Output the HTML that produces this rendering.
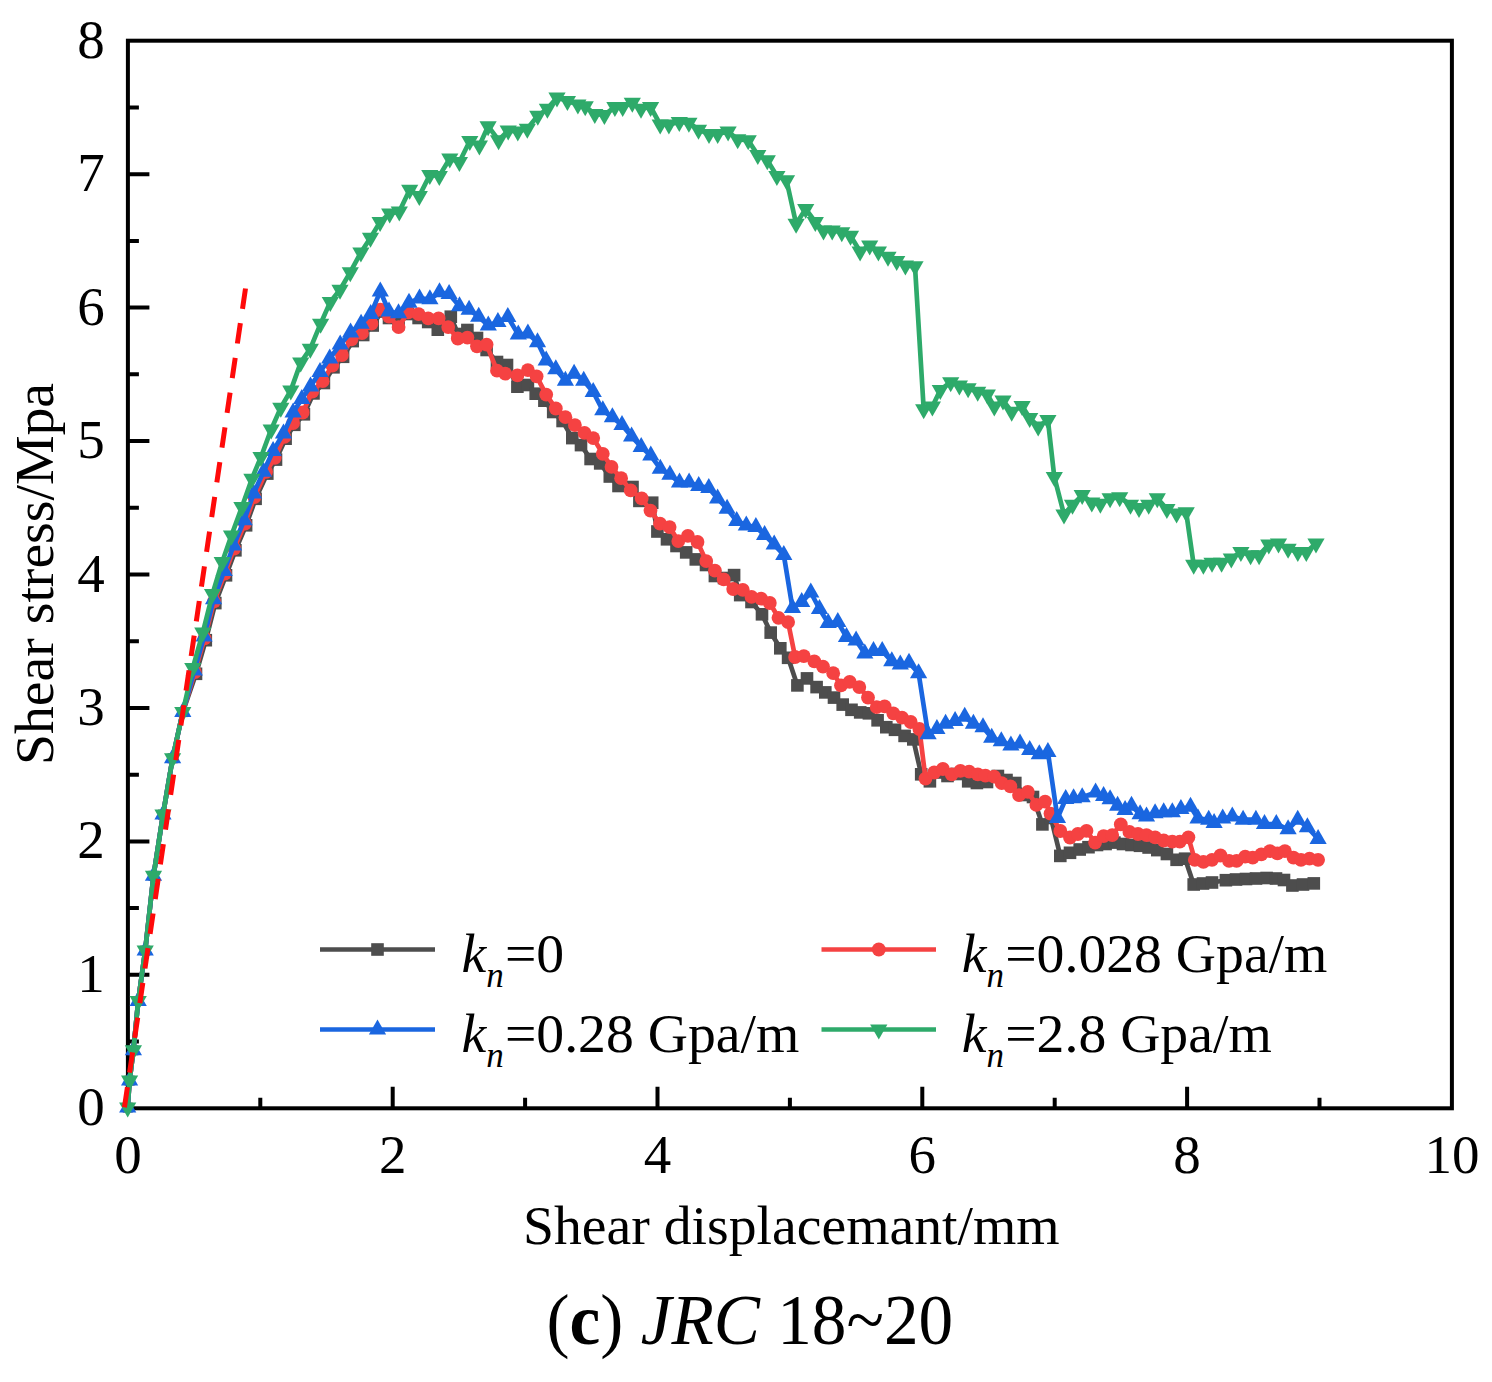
<!DOCTYPE html><html><head><meta charset="utf-8"><title>chart</title><style>html,body{margin:0;padding:0;background:#fff}body{width:1492px;height:1382px;position:relative;overflow:hidden;font-family:"Liberation Serif",serif}</style></head><body><svg width="1492" height="1382" viewBox="0 0 1492 1382" style="position:absolute;left:0;top:0">
<rect width="1492" height="1382" fill="#fff"/>
<rect x="127.9" y="40.7" width="1324.0" height="1067.6" fill="none" stroke="#000" stroke-width="4.0"/>
<path d="M260.3,1108.3v-10.5M392.7,1108.3v-21.5M525.1,1108.3v-10.5M657.5,1108.3v-21.5M789.9,1108.3v-10.5M922.3,1108.3v-21.5M1054.7,1108.3v-10.5M1187.1,1108.3v-21.5M1319.5,1108.3v-10.5M127.9,1041.6h11M127.9,974.8h21.5M127.9,908.1h11M127.9,841.4h21.5M127.9,774.7h11M127.9,708.0h21.5M127.9,641.2h11M127.9,574.5h21.5M127.9,507.8h11M127.9,441.0h21.5M127.9,374.3h11M127.9,307.6h21.5M127.9,240.9h11M127.9,174.2h21.5M127.9,107.4h11" stroke="#000" stroke-width="4.0" fill="none"/>
<polyline points="127.7,1107.6 129.6,1080.6 133.4,1050.3 138.2,1001.0 145.2,950.6 153.5,875.8 163.0,814.6 172.6,758.3 182.8,712.1 196.0,673.8 205.8,640.2 215.3,603.1 226.0,575.3 235.4,550.3 246.1,525.3 255.6,498.8 267.3,473.6 276.0,459.6 285.6,438.7 294.3,424.8 303.9,414.3 313.5,393.4 323.9,383.0 333.5,367.3 343.1,356.8 352.7,341.1 363.2,335.0 372.7,325.5 381.5,311.5 389.0,318.0 398.6,324.0 408.0,314.0 418.6,318.0 428.2,322.0 437.8,329.7 450.8,316.7 458.0,334.0 467.4,330.0 477.0,338.0 486.6,350.0 497.0,362.0 507.0,365.0 517.4,386.7 527.9,385.0 535.7,393.7 544.4,400.7 553.2,412.0 562.6,421.0 572.3,438.1 581.0,445.1 590.6,459.0 600.2,463.4 609.8,476.5 618.5,486.0 632.5,487.0 639.4,500.9 652.2,502.7 657.4,531.5 667.0,539.3 676.5,546.0 686.2,552.4 695.8,559.4 706.0,565.0 714.9,576.0 724.0,578.0 734.1,575.1 740.2,595.1 751.5,602.0 762.0,614.3 770.7,632.6 780.3,648.3 788.1,657.8 797.4,685.4 807.0,678.4 816.6,687.1 825.3,692.4 834.0,697.6 842.7,704.6 851.5,709.8 860.2,712.4 868.9,713.3 877.6,720.3 886.3,727.2 895.0,729.8 904.6,735.9 913.3,739.4 921.2,774.3 929.9,781.3 938.6,772.5 947.5,776.0 956.5,774.0 968.2,781.3 976.9,783.0 987.0,782.0 997.9,776.0 1006.5,780.0 1015.3,783.0 1024.0,795.0 1033.0,797.0 1042.4,824.4 1051.0,818.0 1060.3,855.9 1070.0,852.8 1079.7,849.5 1088.5,847.2 1097.0,845.0 1105.6,844.0 1114.4,842.6 1123.0,844.0 1131.5,845.0 1140.0,845.8 1148.6,847.5 1157.3,850.1 1166.9,854.0 1176.6,859.8 1185.1,858.7 1193.7,884.5 1203.0,883.5 1212.0,882.5 1225.9,880.2 1236.0,879.5 1246.0,879.0 1256.0,878.5 1266.6,878.0 1276.0,878.5 1284.0,880.0 1292.4,885.5 1303.0,884.5 1313.8,883.4" fill="none" stroke="#4d4d4d" stroke-width="4.7" stroke-linejoin="round"/>
<g><rect x="122.7" y="1102.6" width="10.0" height="10.0" fill="#4d4d4d"/><rect x="124.6" y="1075.6" width="10.0" height="10.0" fill="#4d4d4d"/><rect x="128.4" y="1045.3" width="10.0" height="10.0" fill="#4d4d4d"/><rect x="133.2" y="996.0" width="10.0" height="10.0" fill="#4d4d4d"/><rect x="140.2" y="945.6" width="10.0" height="10.0" fill="#4d4d4d"/><rect x="148.5" y="870.8" width="10.0" height="10.0" fill="#4d4d4d"/><rect x="158.0" y="809.6" width="10.0" height="10.0" fill="#4d4d4d"/><rect x="167.6" y="753.3" width="10.0" height="10.0" fill="#4d4d4d"/><rect x="177.8" y="707.1" width="10.0" height="10.0" fill="#4d4d4d"/><rect x="189.7" y="667.5" width="12.6" height="12.6" fill="#4d4d4d"/><rect x="199.5" y="633.9" width="12.6" height="12.6" fill="#4d4d4d"/><rect x="209.0" y="596.8" width="12.6" height="12.6" fill="#4d4d4d"/><rect x="219.7" y="569.0" width="12.6" height="12.6" fill="#4d4d4d"/><rect x="229.1" y="544.0" width="12.6" height="12.6" fill="#4d4d4d"/><rect x="239.8" y="519.0" width="12.6" height="12.6" fill="#4d4d4d"/><rect x="249.3" y="492.5" width="12.6" height="12.6" fill="#4d4d4d"/><rect x="261.0" y="467.3" width="12.6" height="12.6" fill="#4d4d4d"/><rect x="269.7" y="453.3" width="12.6" height="12.6" fill="#4d4d4d"/><rect x="279.3" y="432.4" width="12.6" height="12.6" fill="#4d4d4d"/><rect x="288.0" y="418.5" width="12.6" height="12.6" fill="#4d4d4d"/><rect x="297.6" y="408.0" width="12.6" height="12.6" fill="#4d4d4d"/><rect x="307.2" y="387.1" width="12.6" height="12.6" fill="#4d4d4d"/><rect x="317.6" y="376.7" width="12.6" height="12.6" fill="#4d4d4d"/><rect x="327.2" y="361.0" width="12.6" height="12.6" fill="#4d4d4d"/><rect x="336.8" y="350.5" width="12.6" height="12.6" fill="#4d4d4d"/><rect x="346.4" y="334.8" width="12.6" height="12.6" fill="#4d4d4d"/><rect x="356.9" y="328.7" width="12.6" height="12.6" fill="#4d4d4d"/><rect x="366.4" y="319.2" width="12.6" height="12.6" fill="#4d4d4d"/><rect x="375.2" y="305.2" width="12.6" height="12.6" fill="#4d4d4d"/><rect x="382.7" y="311.7" width="12.6" height="12.6" fill="#4d4d4d"/><rect x="392.3" y="317.7" width="12.6" height="12.6" fill="#4d4d4d"/><rect x="401.7" y="307.7" width="12.6" height="12.6" fill="#4d4d4d"/><rect x="412.3" y="311.7" width="12.6" height="12.6" fill="#4d4d4d"/><rect x="421.9" y="315.7" width="12.6" height="12.6" fill="#4d4d4d"/><rect x="431.5" y="323.4" width="12.6" height="12.6" fill="#4d4d4d"/><rect x="444.5" y="310.4" width="12.6" height="12.6" fill="#4d4d4d"/><rect x="451.7" y="327.7" width="12.6" height="12.6" fill="#4d4d4d"/><rect x="461.1" y="323.7" width="12.6" height="12.6" fill="#4d4d4d"/><rect x="470.7" y="331.7" width="12.6" height="12.6" fill="#4d4d4d"/><rect x="480.3" y="343.7" width="12.6" height="12.6" fill="#4d4d4d"/><rect x="490.7" y="355.7" width="12.6" height="12.6" fill="#4d4d4d"/><rect x="500.7" y="358.7" width="12.6" height="12.6" fill="#4d4d4d"/><rect x="511.1" y="380.4" width="12.6" height="12.6" fill="#4d4d4d"/><rect x="521.6" y="378.7" width="12.6" height="12.6" fill="#4d4d4d"/><rect x="529.4" y="387.4" width="12.6" height="12.6" fill="#4d4d4d"/><rect x="538.1" y="394.4" width="12.6" height="12.6" fill="#4d4d4d"/><rect x="546.9" y="405.7" width="12.6" height="12.6" fill="#4d4d4d"/><rect x="556.3" y="414.7" width="12.6" height="12.6" fill="#4d4d4d"/><rect x="566.0" y="431.8" width="12.6" height="12.6" fill="#4d4d4d"/><rect x="574.7" y="438.8" width="12.6" height="12.6" fill="#4d4d4d"/><rect x="584.3" y="452.7" width="12.6" height="12.6" fill="#4d4d4d"/><rect x="593.9" y="457.1" width="12.6" height="12.6" fill="#4d4d4d"/><rect x="603.5" y="470.2" width="12.6" height="12.6" fill="#4d4d4d"/><rect x="612.2" y="479.7" width="12.6" height="12.6" fill="#4d4d4d"/><rect x="626.2" y="480.7" width="12.6" height="12.6" fill="#4d4d4d"/><rect x="633.1" y="494.6" width="12.6" height="12.6" fill="#4d4d4d"/><rect x="645.9" y="496.4" width="12.6" height="12.6" fill="#4d4d4d"/><rect x="651.1" y="525.2" width="12.6" height="12.6" fill="#4d4d4d"/><rect x="660.7" y="533.0" width="12.6" height="12.6" fill="#4d4d4d"/><rect x="670.2" y="539.7" width="12.6" height="12.6" fill="#4d4d4d"/><rect x="679.9" y="546.1" width="12.6" height="12.6" fill="#4d4d4d"/><rect x="689.5" y="553.1" width="12.6" height="12.6" fill="#4d4d4d"/><rect x="699.7" y="558.7" width="12.6" height="12.6" fill="#4d4d4d"/><rect x="708.6" y="569.7" width="12.6" height="12.6" fill="#4d4d4d"/><rect x="717.7" y="571.7" width="12.6" height="12.6" fill="#4d4d4d"/><rect x="727.8" y="568.8" width="12.6" height="12.6" fill="#4d4d4d"/><rect x="733.9" y="588.8" width="12.6" height="12.6" fill="#4d4d4d"/><rect x="745.2" y="595.7" width="12.6" height="12.6" fill="#4d4d4d"/><rect x="755.7" y="608.0" width="12.6" height="12.6" fill="#4d4d4d"/><rect x="764.4" y="626.3" width="12.6" height="12.6" fill="#4d4d4d"/><rect x="774.0" y="642.0" width="12.6" height="12.6" fill="#4d4d4d"/><rect x="781.8" y="651.5" width="12.6" height="12.6" fill="#4d4d4d"/><rect x="791.1" y="679.1" width="12.6" height="12.6" fill="#4d4d4d"/><rect x="800.7" y="672.1" width="12.6" height="12.6" fill="#4d4d4d"/><rect x="810.3" y="680.8" width="12.6" height="12.6" fill="#4d4d4d"/><rect x="819.0" y="686.1" width="12.6" height="12.6" fill="#4d4d4d"/><rect x="827.7" y="691.3" width="12.6" height="12.6" fill="#4d4d4d"/><rect x="836.4" y="698.3" width="12.6" height="12.6" fill="#4d4d4d"/><rect x="845.2" y="703.5" width="12.6" height="12.6" fill="#4d4d4d"/><rect x="853.9" y="706.1" width="12.6" height="12.6" fill="#4d4d4d"/><rect x="862.6" y="707.0" width="12.6" height="12.6" fill="#4d4d4d"/><rect x="871.3" y="714.0" width="12.6" height="12.6" fill="#4d4d4d"/><rect x="880.0" y="720.9" width="12.6" height="12.6" fill="#4d4d4d"/><rect x="888.7" y="723.5" width="12.6" height="12.6" fill="#4d4d4d"/><rect x="898.3" y="729.6" width="12.6" height="12.6" fill="#4d4d4d"/><rect x="907.0" y="733.1" width="12.6" height="12.6" fill="#4d4d4d"/><rect x="914.9" y="768.0" width="12.6" height="12.6" fill="#4d4d4d"/><rect x="923.6" y="775.0" width="12.6" height="12.6" fill="#4d4d4d"/><rect x="932.3" y="766.2" width="12.6" height="12.6" fill="#4d4d4d"/><rect x="941.2" y="769.7" width="12.6" height="12.6" fill="#4d4d4d"/><rect x="950.2" y="767.7" width="12.6" height="12.6" fill="#4d4d4d"/><rect x="961.9" y="775.0" width="12.6" height="12.6" fill="#4d4d4d"/><rect x="970.6" y="776.7" width="12.6" height="12.6" fill="#4d4d4d"/><rect x="980.7" y="775.7" width="12.6" height="12.6" fill="#4d4d4d"/><rect x="991.6" y="769.7" width="12.6" height="12.6" fill="#4d4d4d"/><rect x="1000.2" y="773.7" width="12.6" height="12.6" fill="#4d4d4d"/><rect x="1009.0" y="776.7" width="12.6" height="12.6" fill="#4d4d4d"/><rect x="1017.7" y="788.7" width="12.6" height="12.6" fill="#4d4d4d"/><rect x="1026.7" y="790.7" width="12.6" height="12.6" fill="#4d4d4d"/><rect x="1036.1" y="818.1" width="12.6" height="12.6" fill="#4d4d4d"/><rect x="1044.7" y="811.7" width="12.6" height="12.6" fill="#4d4d4d"/><rect x="1054.0" y="849.6" width="12.6" height="12.6" fill="#4d4d4d"/><rect x="1063.7" y="846.5" width="12.6" height="12.6" fill="#4d4d4d"/><rect x="1073.4" y="843.2" width="12.6" height="12.6" fill="#4d4d4d"/><rect x="1082.2" y="840.9" width="12.6" height="12.6" fill="#4d4d4d"/><rect x="1090.7" y="838.7" width="12.6" height="12.6" fill="#4d4d4d"/><rect x="1099.3" y="837.7" width="12.6" height="12.6" fill="#4d4d4d"/><rect x="1108.1" y="836.3" width="12.6" height="12.6" fill="#4d4d4d"/><rect x="1116.7" y="837.7" width="12.6" height="12.6" fill="#4d4d4d"/><rect x="1125.2" y="838.7" width="12.6" height="12.6" fill="#4d4d4d"/><rect x="1133.7" y="839.5" width="12.6" height="12.6" fill="#4d4d4d"/><rect x="1142.3" y="841.2" width="12.6" height="12.6" fill="#4d4d4d"/><rect x="1151.0" y="843.8" width="12.6" height="12.6" fill="#4d4d4d"/><rect x="1160.6" y="847.7" width="12.6" height="12.6" fill="#4d4d4d"/><rect x="1170.3" y="853.5" width="12.6" height="12.6" fill="#4d4d4d"/><rect x="1178.8" y="852.4" width="12.6" height="12.6" fill="#4d4d4d"/><rect x="1187.4" y="878.2" width="12.6" height="12.6" fill="#4d4d4d"/><rect x="1196.7" y="877.2" width="12.6" height="12.6" fill="#4d4d4d"/><rect x="1205.7" y="876.2" width="12.6" height="12.6" fill="#4d4d4d"/><rect x="1219.6" y="873.9" width="12.6" height="12.6" fill="#4d4d4d"/><rect x="1229.7" y="873.2" width="12.6" height="12.6" fill="#4d4d4d"/><rect x="1239.7" y="872.7" width="12.6" height="12.6" fill="#4d4d4d"/><rect x="1249.7" y="872.2" width="12.6" height="12.6" fill="#4d4d4d"/><rect x="1260.3" y="871.7" width="12.6" height="12.6" fill="#4d4d4d"/><rect x="1269.7" y="872.2" width="12.6" height="12.6" fill="#4d4d4d"/><rect x="1277.7" y="873.7" width="12.6" height="12.6" fill="#4d4d4d"/><rect x="1286.1" y="879.2" width="12.6" height="12.6" fill="#4d4d4d"/><rect x="1296.7" y="878.2" width="12.6" height="12.6" fill="#4d4d4d"/><rect x="1307.5" y="877.1" width="12.6" height="12.6" fill="#4d4d4d"/></g>
<polyline points="127.7,1107.6 129.6,1080.6 133.4,1050.3 138.2,1001.0 145.2,950.6 153.5,875.8 163.0,814.6 172.6,758.3 182.8,712.1 194.8,672.0 204.6,638.4 214.1,601.3 224.8,573.5 234.2,548.5 244.9,523.5 254.4,497.0 266.1,471.8 274.8,457.8 284.4,436.9 293.1,423.0 302.7,412.5 312.3,391.6 322.7,381.2 332.3,365.5 341.9,355.0 351.5,339.3 362.0,333.2 371.5,323.7 380.3,309.7 389.0,316.7 398.6,327.1 408.1,312.3 418.6,314.1 428.2,318.4 438.6,318.4 448.2,327.1 457.8,338.5 467.4,337.6 477.0,346.3 486.6,344.6 497.0,370.7 505.2,373.7 517.4,375.4 527.9,370.2 536.6,376.3 546.2,394.6 555.8,408.5 565.4,417.2 574.9,425.1 584.5,432.9 593.2,438.1 602.8,453.8 611.5,466.9 621.1,478.2 630.7,490.4 641.7,498.4 650.5,510.6 660.0,523.7 669.6,527.1 678.3,541.1 687.9,535.9 697.5,542.0 706.2,561.1 714.9,570.7 723.7,579.4 733.2,589.0 742.8,589.9 751.5,596.9 761.1,598.6 769.8,603.0 778.5,617.8 788.1,622.1 795.1,657.0 803.8,656.1 814.3,661.3 823.0,666.6 833.2,673.2 841.0,685.4 849.7,681.9 859.3,687.1 868.0,697.6 876.7,707.2 884.6,706.3 893.3,713.3 902.0,717.6 910.7,722.0 919.4,729.0 925.5,778.6 934.2,772.5 942.9,769.0 951.7,774.3 960.4,770.8 969.1,771.7 977.8,774.3 985.4,775.6 994.1,776.7 1001.7,783.2 1010.4,786.4 1019.0,795.1 1027.8,791.9 1036.4,804.9 1045.1,801.6 1050.5,813.6 1060.3,831.0 1070.0,837.5 1077.9,834.0 1086.5,830.8 1095.1,842.6 1103.6,836.2 1112.2,835.1 1120.8,824.4 1129.4,831.9 1138.0,834.0 1146.5,835.1 1155.1,837.3 1163.7,840.5 1172.3,841.6 1179.8,841.6 1188.4,837.3 1194.8,859.8 1203.4,861.9 1212.0,859.8 1220.5,855.5 1229.1,860.9 1236.6,860.9 1245.2,856.6 1252.7,857.6 1261.3,854.4 1269.9,851.2 1277.4,853.4 1284.9,851.2 1293.5,857.6 1301.0,859.8 1309.5,858.7 1318.1,859.8" fill="none" stroke="#f54242" stroke-width="4.7" stroke-linejoin="round"/>
<g><circle cx="127.7" cy="1107.6" r="5.0" fill="#f54242"/><circle cx="129.6" cy="1080.6" r="5.0" fill="#f54242"/><circle cx="133.4" cy="1050.3" r="5.0" fill="#f54242"/><circle cx="138.2" cy="1001.0" r="5.0" fill="#f54242"/><circle cx="145.2" cy="950.6" r="5.0" fill="#f54242"/><circle cx="153.5" cy="875.8" r="5.0" fill="#f54242"/><circle cx="163.0" cy="814.6" r="5.0" fill="#f54242"/><circle cx="172.6" cy="758.3" r="5.0" fill="#f54242"/><circle cx="182.8" cy="712.1" r="5.0" fill="#f54242"/><circle cx="194.8" cy="672.0" r="6.9" fill="#f54242"/><circle cx="204.6" cy="638.4" r="6.9" fill="#f54242"/><circle cx="214.1" cy="601.3" r="6.9" fill="#f54242"/><circle cx="224.8" cy="573.5" r="6.9" fill="#f54242"/><circle cx="234.2" cy="548.5" r="6.9" fill="#f54242"/><circle cx="244.9" cy="523.5" r="6.9" fill="#f54242"/><circle cx="254.4" cy="497.0" r="6.9" fill="#f54242"/><circle cx="266.1" cy="471.8" r="6.9" fill="#f54242"/><circle cx="274.8" cy="457.8" r="6.9" fill="#f54242"/><circle cx="284.4" cy="436.9" r="6.9" fill="#f54242"/><circle cx="293.1" cy="423.0" r="6.9" fill="#f54242"/><circle cx="302.7" cy="412.5" r="6.9" fill="#f54242"/><circle cx="312.3" cy="391.6" r="6.9" fill="#f54242"/><circle cx="322.7" cy="381.2" r="6.9" fill="#f54242"/><circle cx="332.3" cy="365.5" r="6.9" fill="#f54242"/><circle cx="341.9" cy="355.0" r="6.9" fill="#f54242"/><circle cx="351.5" cy="339.3" r="6.9" fill="#f54242"/><circle cx="362.0" cy="333.2" r="6.9" fill="#f54242"/><circle cx="371.5" cy="323.7" r="6.9" fill="#f54242"/><circle cx="380.3" cy="309.7" r="6.9" fill="#f54242"/><circle cx="389.0" cy="316.7" r="6.9" fill="#f54242"/><circle cx="398.6" cy="327.1" r="6.9" fill="#f54242"/><circle cx="408.1" cy="312.3" r="6.9" fill="#f54242"/><circle cx="418.6" cy="314.1" r="6.9" fill="#f54242"/><circle cx="428.2" cy="318.4" r="6.9" fill="#f54242"/><circle cx="438.6" cy="318.4" r="6.9" fill="#f54242"/><circle cx="448.2" cy="327.1" r="6.9" fill="#f54242"/><circle cx="457.8" cy="338.5" r="6.9" fill="#f54242"/><circle cx="467.4" cy="337.6" r="6.9" fill="#f54242"/><circle cx="477.0" cy="346.3" r="6.9" fill="#f54242"/><circle cx="486.6" cy="344.6" r="6.9" fill="#f54242"/><circle cx="497.0" cy="370.7" r="6.9" fill="#f54242"/><circle cx="505.2" cy="373.7" r="6.9" fill="#f54242"/><circle cx="517.4" cy="375.4" r="6.9" fill="#f54242"/><circle cx="527.9" cy="370.2" r="6.9" fill="#f54242"/><circle cx="536.6" cy="376.3" r="6.9" fill="#f54242"/><circle cx="546.2" cy="394.6" r="6.9" fill="#f54242"/><circle cx="555.8" cy="408.5" r="6.9" fill="#f54242"/><circle cx="565.4" cy="417.2" r="6.9" fill="#f54242"/><circle cx="574.9" cy="425.1" r="6.9" fill="#f54242"/><circle cx="584.5" cy="432.9" r="6.9" fill="#f54242"/><circle cx="593.2" cy="438.1" r="6.9" fill="#f54242"/><circle cx="602.8" cy="453.8" r="6.9" fill="#f54242"/><circle cx="611.5" cy="466.9" r="6.9" fill="#f54242"/><circle cx="621.1" cy="478.2" r="6.9" fill="#f54242"/><circle cx="630.7" cy="490.4" r="6.9" fill="#f54242"/><circle cx="641.7" cy="498.4" r="6.9" fill="#f54242"/><circle cx="650.5" cy="510.6" r="6.9" fill="#f54242"/><circle cx="660.0" cy="523.7" r="6.9" fill="#f54242"/><circle cx="669.6" cy="527.1" r="6.9" fill="#f54242"/><circle cx="678.3" cy="541.1" r="6.9" fill="#f54242"/><circle cx="687.9" cy="535.9" r="6.9" fill="#f54242"/><circle cx="697.5" cy="542.0" r="6.9" fill="#f54242"/><circle cx="706.2" cy="561.1" r="6.9" fill="#f54242"/><circle cx="714.9" cy="570.7" r="6.9" fill="#f54242"/><circle cx="723.7" cy="579.4" r="6.9" fill="#f54242"/><circle cx="733.2" cy="589.0" r="6.9" fill="#f54242"/><circle cx="742.8" cy="589.9" r="6.9" fill="#f54242"/><circle cx="751.5" cy="596.9" r="6.9" fill="#f54242"/><circle cx="761.1" cy="598.6" r="6.9" fill="#f54242"/><circle cx="769.8" cy="603.0" r="6.9" fill="#f54242"/><circle cx="778.5" cy="617.8" r="6.9" fill="#f54242"/><circle cx="788.1" cy="622.1" r="6.9" fill="#f54242"/><circle cx="795.1" cy="657.0" r="6.9" fill="#f54242"/><circle cx="803.8" cy="656.1" r="6.9" fill="#f54242"/><circle cx="814.3" cy="661.3" r="6.9" fill="#f54242"/><circle cx="823.0" cy="666.6" r="6.9" fill="#f54242"/><circle cx="833.2" cy="673.2" r="6.9" fill="#f54242"/><circle cx="841.0" cy="685.4" r="6.9" fill="#f54242"/><circle cx="849.7" cy="681.9" r="6.9" fill="#f54242"/><circle cx="859.3" cy="687.1" r="6.9" fill="#f54242"/><circle cx="868.0" cy="697.6" r="6.9" fill="#f54242"/><circle cx="876.7" cy="707.2" r="6.9" fill="#f54242"/><circle cx="884.6" cy="706.3" r="6.9" fill="#f54242"/><circle cx="893.3" cy="713.3" r="6.9" fill="#f54242"/><circle cx="902.0" cy="717.6" r="6.9" fill="#f54242"/><circle cx="910.7" cy="722.0" r="6.9" fill="#f54242"/><circle cx="919.4" cy="729.0" r="6.9" fill="#f54242"/><circle cx="925.5" cy="778.6" r="6.9" fill="#f54242"/><circle cx="934.2" cy="772.5" r="6.9" fill="#f54242"/><circle cx="942.9" cy="769.0" r="6.9" fill="#f54242"/><circle cx="951.7" cy="774.3" r="6.9" fill="#f54242"/><circle cx="960.4" cy="770.8" r="6.9" fill="#f54242"/><circle cx="969.1" cy="771.7" r="6.9" fill="#f54242"/><circle cx="977.8" cy="774.3" r="6.9" fill="#f54242"/><circle cx="985.4" cy="775.6" r="6.9" fill="#f54242"/><circle cx="994.1" cy="776.7" r="6.9" fill="#f54242"/><circle cx="1001.7" cy="783.2" r="6.9" fill="#f54242"/><circle cx="1010.4" cy="786.4" r="6.9" fill="#f54242"/><circle cx="1019.0" cy="795.1" r="6.9" fill="#f54242"/><circle cx="1027.8" cy="791.9" r="6.9" fill="#f54242"/><circle cx="1036.4" cy="804.9" r="6.9" fill="#f54242"/><circle cx="1045.1" cy="801.6" r="6.9" fill="#f54242"/><circle cx="1050.5" cy="813.6" r="6.9" fill="#f54242"/><circle cx="1060.3" cy="831.0" r="6.9" fill="#f54242"/><circle cx="1070.0" cy="837.5" r="6.9" fill="#f54242"/><circle cx="1077.9" cy="834.0" r="6.9" fill="#f54242"/><circle cx="1086.5" cy="830.8" r="6.9" fill="#f54242"/><circle cx="1095.1" cy="842.6" r="6.9" fill="#f54242"/><circle cx="1103.6" cy="836.2" r="6.9" fill="#f54242"/><circle cx="1112.2" cy="835.1" r="6.9" fill="#f54242"/><circle cx="1120.8" cy="824.4" r="6.9" fill="#f54242"/><circle cx="1129.4" cy="831.9" r="6.9" fill="#f54242"/><circle cx="1138.0" cy="834.0" r="6.9" fill="#f54242"/><circle cx="1146.5" cy="835.1" r="6.9" fill="#f54242"/><circle cx="1155.1" cy="837.3" r="6.9" fill="#f54242"/><circle cx="1163.7" cy="840.5" r="6.9" fill="#f54242"/><circle cx="1172.3" cy="841.6" r="6.9" fill="#f54242"/><circle cx="1179.8" cy="841.6" r="6.9" fill="#f54242"/><circle cx="1188.4" cy="837.3" r="6.9" fill="#f54242"/><circle cx="1194.8" cy="859.8" r="6.9" fill="#f54242"/><circle cx="1203.4" cy="861.9" r="6.9" fill="#f54242"/><circle cx="1212.0" cy="859.8" r="6.9" fill="#f54242"/><circle cx="1220.5" cy="855.5" r="6.9" fill="#f54242"/><circle cx="1229.1" cy="860.9" r="6.9" fill="#f54242"/><circle cx="1236.6" cy="860.9" r="6.9" fill="#f54242"/><circle cx="1245.2" cy="856.6" r="6.9" fill="#f54242"/><circle cx="1252.7" cy="857.6" r="6.9" fill="#f54242"/><circle cx="1261.3" cy="854.4" r="6.9" fill="#f54242"/><circle cx="1269.9" cy="851.2" r="6.9" fill="#f54242"/><circle cx="1277.4" cy="853.4" r="6.9" fill="#f54242"/><circle cx="1284.9" cy="851.2" r="6.9" fill="#f54242"/><circle cx="1293.5" cy="857.6" r="6.9" fill="#f54242"/><circle cx="1301.0" cy="859.8" r="6.9" fill="#f54242"/><circle cx="1309.5" cy="858.7" r="6.9" fill="#f54242"/><circle cx="1318.1" cy="859.8" r="6.9" fill="#f54242"/></g>
<polyline points="127.7,1107.6 129.6,1080.6 133.4,1050.3 138.2,1001.0 145.2,950.6 153.5,875.8 163.0,814.6 172.6,758.3 182.8,712.1 194.3,670.5 204.1,636.6 213.6,599.3 224.2,571.0 233.6,545.5 244.2,520.2 253.6,493.6 263.5,471.8 273.1,450.9 283.5,433.5 293.1,412.5 301.8,399.0 310.5,386.4 320.0,372.0 329.7,358.5 340.2,344.6 350.6,332.4 361.1,323.7 370.7,314.1 380.3,291.4 389.0,311.5 398.5,313.2 409.0,302.7 419.5,298.4 429.9,299.3 439.5,292.3 449.1,294.0 459.5,306.2 469.1,309.7 478.7,316.7 488.3,325.4 497.9,321.9 507.8,317.0 518.3,334.5 527.9,333.6 537.5,342.3 546.2,360.6 555.8,369.3 565.4,380.7 574.1,373.7 583.7,380.7 593.2,392.0 602.8,410.3 612.4,417.3 622.0,425.1 631.6,436.4 641.2,446.9 650.8,455.6 660.3,468.7 669.9,474.8 679.5,482.6 689.1,482.6 698.7,486.0 708.8,487.9 717.6,498.4 727.1,508.8 736.7,521.0 746.3,525.4 755.9,527.1 764.6,535.0 774.2,544.6 783.8,555.0 792.5,608.0 801.7,602.0 810.8,592.5 819.5,609.0 828.2,623.0 837.8,622.0 846.5,637.0 856.1,640.4 864.8,653.5 873.5,650.9 882.2,650.9 891.8,661.3 900.3,664.5 909.0,662.7 918.6,673.2 928.1,734.2 936.9,729.0 945.6,723.7 955.1,721.1 964.7,716.8 973.4,723.7 983.0,727.2 991.7,737.7 1001.3,741.2 1010.9,745.5 1020.0,743.5 1029.7,750.0 1039.3,754.3 1047.9,752.1 1057.5,818.0 1065.7,799.0 1073.6,798.2 1082.2,797.2 1095.6,792.5 1103.6,796.1 1110.1,799.3 1117.6,805.7 1125.1,810.0 1131.5,805.7 1140.1,814.3 1146.5,816.5 1155.1,813.2 1163.7,812.2 1172.3,812.2 1180.9,809.0 1190.5,806.8 1198.0,818.6 1208.7,819.7 1214.1,822.9 1222.7,818.6 1232.3,816.5 1243.1,819.7 1255.9,819.7 1264.5,824.0 1276.3,824.0 1288.1,829.3 1297.7,819.7 1307.4,827.2 1318.1,839.0" fill="none" stroke="#1a66e0" stroke-width="4.7" stroke-linejoin="round"/>
<g><path d="M119.1,1112.6L136.3,1112.6L127.7,1097.6Z" fill="#1a66e0"/><path d="M121.0,1085.6L138.2,1085.6L129.6,1070.6Z" fill="#1a66e0"/><path d="M124.8,1055.3L142.0,1055.3L133.4,1040.3Z" fill="#1a66e0"/><path d="M129.6,1006.0L146.8,1006.0L138.2,991.0Z" fill="#1a66e0"/><path d="M136.6,955.6L153.8,955.6L145.2,940.6Z" fill="#1a66e0"/><path d="M144.9,880.8L162.1,880.8L153.5,865.8Z" fill="#1a66e0"/><path d="M154.4,819.6L171.6,819.6L163.0,804.6Z" fill="#1a66e0"/><path d="M164.0,763.3L181.2,763.3L172.6,748.3Z" fill="#1a66e0"/><path d="M174.2,717.1L191.4,717.1L182.8,702.1Z" fill="#1a66e0"/><path d="M185.7,675.5L202.9,675.5L194.3,660.5Z" fill="#1a66e0"/><path d="M195.5,641.6L212.7,641.6L204.1,626.6Z" fill="#1a66e0"/><path d="M205.0,604.3L222.2,604.3L213.6,589.3Z" fill="#1a66e0"/><path d="M215.6,576.0L232.8,576.0L224.2,561.0Z" fill="#1a66e0"/><path d="M225.0,550.5L242.2,550.5L233.6,535.5Z" fill="#1a66e0"/><path d="M235.6,525.2L252.8,525.2L244.2,510.2Z" fill="#1a66e0"/><path d="M245.0,498.6L262.2,498.6L253.6,483.6Z" fill="#1a66e0"/><path d="M254.9,476.8L272.1,476.8L263.5,461.8Z" fill="#1a66e0"/><path d="M264.5,455.9L281.7,455.9L273.1,440.9Z" fill="#1a66e0"/><path d="M274.9,438.5L292.1,438.5L283.5,423.5Z" fill="#1a66e0"/><path d="M284.5,417.5L301.7,417.5L293.1,402.5Z" fill="#1a66e0"/><path d="M293.2,404.0L310.4,404.0L301.8,389.0Z" fill="#1a66e0"/><path d="M301.9,391.4L319.1,391.4L310.5,376.4Z" fill="#1a66e0"/><path d="M311.4,377.0L328.6,377.0L320.0,362.0Z" fill="#1a66e0"/><path d="M321.1,363.5L338.3,363.5L329.7,348.5Z" fill="#1a66e0"/><path d="M331.6,349.6L348.8,349.6L340.2,334.6Z" fill="#1a66e0"/><path d="M342.0,337.4L359.2,337.4L350.6,322.4Z" fill="#1a66e0"/><path d="M352.5,328.7L369.7,328.7L361.1,313.7Z" fill="#1a66e0"/><path d="M362.1,319.1L379.3,319.1L370.7,304.1Z" fill="#1a66e0"/><path d="M371.7,296.4L388.9,296.4L380.3,281.4Z" fill="#1a66e0"/><path d="M380.4,316.5L397.6,316.5L389.0,301.5Z" fill="#1a66e0"/><path d="M389.9,318.2L407.1,318.2L398.5,303.2Z" fill="#1a66e0"/><path d="M400.4,307.7L417.6,307.7L409.0,292.7Z" fill="#1a66e0"/><path d="M410.9,303.4L428.1,303.4L419.5,288.4Z" fill="#1a66e0"/><path d="M421.3,304.3L438.5,304.3L429.9,289.3Z" fill="#1a66e0"/><path d="M430.9,297.3L448.1,297.3L439.5,282.3Z" fill="#1a66e0"/><path d="M440.5,299.0L457.7,299.0L449.1,284.0Z" fill="#1a66e0"/><path d="M450.9,311.2L468.1,311.2L459.5,296.2Z" fill="#1a66e0"/><path d="M460.5,314.7L477.7,314.7L469.1,299.7Z" fill="#1a66e0"/><path d="M470.1,321.7L487.3,321.7L478.7,306.7Z" fill="#1a66e0"/><path d="M479.7,330.4L496.9,330.4L488.3,315.4Z" fill="#1a66e0"/><path d="M489.3,326.9L506.5,326.9L497.9,311.9Z" fill="#1a66e0"/><path d="M499.2,322.0L516.4,322.0L507.8,307.0Z" fill="#1a66e0"/><path d="M509.7,339.5L526.9,339.5L518.3,324.5Z" fill="#1a66e0"/><path d="M519.3,338.6L536.5,338.6L527.9,323.6Z" fill="#1a66e0"/><path d="M528.9,347.3L546.1,347.3L537.5,332.3Z" fill="#1a66e0"/><path d="M537.6,365.6L554.8,365.6L546.2,350.6Z" fill="#1a66e0"/><path d="M547.2,374.3L564.4,374.3L555.8,359.3Z" fill="#1a66e0"/><path d="M556.8,385.7L574.0,385.7L565.4,370.7Z" fill="#1a66e0"/><path d="M565.5,378.7L582.7,378.7L574.1,363.7Z" fill="#1a66e0"/><path d="M575.1,385.7L592.3,385.7L583.7,370.7Z" fill="#1a66e0"/><path d="M584.6,397.0L601.8,397.0L593.2,382.0Z" fill="#1a66e0"/><path d="M594.2,415.3L611.4,415.3L602.8,400.3Z" fill="#1a66e0"/><path d="M603.8,422.3L621.0,422.3L612.4,407.3Z" fill="#1a66e0"/><path d="M613.4,430.1L630.6,430.1L622.0,415.1Z" fill="#1a66e0"/><path d="M623.0,441.4L640.2,441.4L631.6,426.4Z" fill="#1a66e0"/><path d="M632.6,451.9L649.8,451.9L641.2,436.9Z" fill="#1a66e0"/><path d="M642.2,460.6L659.4,460.6L650.8,445.6Z" fill="#1a66e0"/><path d="M651.7,473.7L668.9,473.7L660.3,458.7Z" fill="#1a66e0"/><path d="M661.3,479.8L678.5,479.8L669.9,464.8Z" fill="#1a66e0"/><path d="M670.9,487.6L688.1,487.6L679.5,472.6Z" fill="#1a66e0"/><path d="M680.5,487.6L697.7,487.6L689.1,472.6Z" fill="#1a66e0"/><path d="M690.1,491.0L707.3,491.0L698.7,476.0Z" fill="#1a66e0"/><path d="M700.2,492.9L717.4,492.9L708.8,477.9Z" fill="#1a66e0"/><path d="M709.0,503.4L726.2,503.4L717.6,488.4Z" fill="#1a66e0"/><path d="M718.5,513.8L735.7,513.8L727.1,498.8Z" fill="#1a66e0"/><path d="M728.1,526.0L745.3,526.0L736.7,511.0Z" fill="#1a66e0"/><path d="M737.7,530.4L754.9,530.4L746.3,515.4Z" fill="#1a66e0"/><path d="M747.3,532.1L764.5,532.1L755.9,517.1Z" fill="#1a66e0"/><path d="M756.0,540.0L773.2,540.0L764.6,525.0Z" fill="#1a66e0"/><path d="M765.6,549.6L782.8,549.6L774.2,534.6Z" fill="#1a66e0"/><path d="M775.2,560.0L792.4,560.0L783.8,545.0Z" fill="#1a66e0"/><path d="M783.9,613.0L801.1,613.0L792.5,598.0Z" fill="#1a66e0"/><path d="M793.1,607.0L810.3,607.0L801.7,592.0Z" fill="#1a66e0"/><path d="M802.2,597.5L819.4,597.5L810.8,582.5Z" fill="#1a66e0"/><path d="M810.9,614.0L828.1,614.0L819.5,599.0Z" fill="#1a66e0"/><path d="M819.6,628.0L836.8,628.0L828.2,613.0Z" fill="#1a66e0"/><path d="M829.2,627.0L846.4,627.0L837.8,612.0Z" fill="#1a66e0"/><path d="M837.9,642.0L855.1,642.0L846.5,627.0Z" fill="#1a66e0"/><path d="M847.5,645.4L864.7,645.4L856.1,630.4Z" fill="#1a66e0"/><path d="M856.2,658.5L873.4,658.5L864.8,643.5Z" fill="#1a66e0"/><path d="M864.9,655.9L882.1,655.9L873.5,640.9Z" fill="#1a66e0"/><path d="M873.6,655.9L890.8,655.9L882.2,640.9Z" fill="#1a66e0"/><path d="M883.2,666.3L900.4,666.3L891.8,651.3Z" fill="#1a66e0"/><path d="M891.7,669.5L908.9,669.5L900.3,654.5Z" fill="#1a66e0"/><path d="M900.4,667.7L917.6,667.7L909.0,652.7Z" fill="#1a66e0"/><path d="M910.0,678.2L927.2,678.2L918.6,663.2Z" fill="#1a66e0"/><path d="M919.5,739.2L936.7,739.2L928.1,724.2Z" fill="#1a66e0"/><path d="M928.3,734.0L945.5,734.0L936.9,719.0Z" fill="#1a66e0"/><path d="M937.0,728.7L954.2,728.7L945.6,713.7Z" fill="#1a66e0"/><path d="M946.5,726.1L963.7,726.1L955.1,711.1Z" fill="#1a66e0"/><path d="M956.1,721.8L973.3,721.8L964.7,706.8Z" fill="#1a66e0"/><path d="M964.8,728.7L982.0,728.7L973.4,713.7Z" fill="#1a66e0"/><path d="M974.4,732.2L991.6,732.2L983.0,717.2Z" fill="#1a66e0"/><path d="M983.1,742.7L1000.3,742.7L991.7,727.7Z" fill="#1a66e0"/><path d="M992.7,746.2L1009.9,746.2L1001.3,731.2Z" fill="#1a66e0"/><path d="M1002.3,750.5L1019.5,750.5L1010.9,735.5Z" fill="#1a66e0"/><path d="M1011.4,748.5L1028.6,748.5L1020.0,733.5Z" fill="#1a66e0"/><path d="M1021.1,755.0L1038.3,755.0L1029.7,740.0Z" fill="#1a66e0"/><path d="M1030.7,759.3L1047.9,759.3L1039.3,744.3Z" fill="#1a66e0"/><path d="M1039.3,757.1L1056.5,757.1L1047.9,742.1Z" fill="#1a66e0"/><path d="M1048.9,823.0L1066.1,823.0L1057.5,808.0Z" fill="#1a66e0"/><path d="M1057.1,804.0L1074.3,804.0L1065.7,789.0Z" fill="#1a66e0"/><path d="M1065.0,803.2L1082.2,803.2L1073.6,788.2Z" fill="#1a66e0"/><path d="M1073.6,802.2L1090.8,802.2L1082.2,787.2Z" fill="#1a66e0"/><path d="M1087.0,797.5L1104.2,797.5L1095.6,782.5Z" fill="#1a66e0"/><path d="M1095.0,801.1L1112.2,801.1L1103.6,786.1Z" fill="#1a66e0"/><path d="M1101.5,804.3L1118.7,804.3L1110.1,789.3Z" fill="#1a66e0"/><path d="M1109.0,810.7L1126.2,810.7L1117.6,795.7Z" fill="#1a66e0"/><path d="M1116.5,815.0L1133.7,815.0L1125.1,800.0Z" fill="#1a66e0"/><path d="M1122.9,810.7L1140.1,810.7L1131.5,795.7Z" fill="#1a66e0"/><path d="M1131.5,819.3L1148.7,819.3L1140.1,804.3Z" fill="#1a66e0"/><path d="M1137.9,821.5L1155.1,821.5L1146.5,806.5Z" fill="#1a66e0"/><path d="M1146.5,818.2L1163.7,818.2L1155.1,803.2Z" fill="#1a66e0"/><path d="M1155.1,817.2L1172.3,817.2L1163.7,802.2Z" fill="#1a66e0"/><path d="M1163.7,817.2L1180.9,817.2L1172.3,802.2Z" fill="#1a66e0"/><path d="M1172.3,814.0L1189.5,814.0L1180.9,799.0Z" fill="#1a66e0"/><path d="M1181.9,811.8L1199.1,811.8L1190.5,796.8Z" fill="#1a66e0"/><path d="M1189.4,823.6L1206.6,823.6L1198.0,808.6Z" fill="#1a66e0"/><path d="M1200.1,824.7L1217.3,824.7L1208.7,809.7Z" fill="#1a66e0"/><path d="M1205.5,827.9L1222.7,827.9L1214.1,812.9Z" fill="#1a66e0"/><path d="M1214.1,823.6L1231.3,823.6L1222.7,808.6Z" fill="#1a66e0"/><path d="M1223.7,821.5L1240.9,821.5L1232.3,806.5Z" fill="#1a66e0"/><path d="M1234.5,824.7L1251.7,824.7L1243.1,809.7Z" fill="#1a66e0"/><path d="M1247.3,824.7L1264.5,824.7L1255.9,809.7Z" fill="#1a66e0"/><path d="M1255.9,829.0L1273.1,829.0L1264.5,814.0Z" fill="#1a66e0"/><path d="M1267.7,829.0L1284.9,829.0L1276.3,814.0Z" fill="#1a66e0"/><path d="M1279.5,834.3L1296.7,834.3L1288.1,819.3Z" fill="#1a66e0"/><path d="M1289.1,824.7L1306.3,824.7L1297.7,809.7Z" fill="#1a66e0"/><path d="M1298.8,832.2L1316.0,832.2L1307.4,817.2Z" fill="#1a66e0"/><path d="M1309.5,844.0L1326.7,844.0L1318.1,829.0Z" fill="#1a66e0"/></g>
<polyline points="127.7,1107.6 129.6,1080.6 133.4,1050.3 138.2,1001.0 145.2,950.6 153.5,875.8 163.0,814.6 172.6,758.3 182.8,712.1 192.8,668.0 202.8,632.6 212.5,594.0 222.2,562.0 231.5,535.4 241.9,507.0 251.9,478.7 261.0,457.0 271.2,429.4 280.8,407.7 290.8,390.4 300.7,362.6 310.3,348.7 320.6,323.7 330.3,301.9 340.0,289.7 350.3,272.2 360.9,252.5 370.5,237.8 380.1,222.1 389.7,213.4 399.3,211.6 409.7,189.8 419.3,195.9 429.8,175.0 439.3,175.9 449.8,158.5 459.4,162.0 469.8,141.0 479.4,145.4 488.1,126.2 498.6,140.2 508.2,130.6 517.8,131.5 527.3,128.8 537.8,115.8 547.4,108.8 557.0,97.5 567.4,101.0 577.9,104.4 585.2,106.2 594.8,114.0 604.4,114.9 614.9,107.0 622.7,107.0 632.3,102.7 641.0,108.8 650.6,107.0 660.2,124.5 668.9,124.5 679.3,121.9 688.9,122.7 698.5,129.7 709.0,134.0 717.7,134.0 728.1,131.5 737.7,139.3 748.2,140.2 757.8,155.0 767.3,160.2 776.9,175.9 786.5,180.3 796.1,223.8 805.7,209.0 815.3,222.0 823.5,230.5 832.2,230.5 841.8,232.3 850.5,235.8 860.1,251.5 869.7,245.4 878.4,251.5 888.0,256.7 896.7,261.0 905.4,265.4 915.0,266.3 923.7,409.2 932.4,406.6 940.3,390.0 950.7,382.2 959.4,385.6 968.1,388.3 977.7,391.7 987.3,394.4 994.3,406.6 1003.0,400.5 1011.7,411.8 1022.1,406.1 1029.7,417.9 1038.2,426.5 1047.9,420.1 1054.3,476.9 1064.0,514.4 1072.5,504.8 1082.2,495.1 1091.8,502.6 1100.4,503.7 1110.1,498.3 1119.7,497.3 1130.5,504.8 1139.0,508.0 1148.7,504.8 1157.3,498.3 1166.9,509.1 1176.6,513.4 1186.2,512.3 1193.7,564.8 1203.4,564.8 1212.0,562.7 1221.6,562.7 1231.3,558.4 1240.9,552.0 1250.6,555.2 1259.1,555.2 1268.8,544.5 1278.5,543.4 1288.1,548.7 1297.8,552.0 1306.3,552.0 1316.0,543.4" fill="none" stroke="#2eaa6a" stroke-width="4.7" stroke-linejoin="round"/>
<g><path d="M119.1,1102.6L136.3,1102.6L127.7,1117.6Z" fill="#2eaa6a"/><path d="M121.0,1075.6L138.2,1075.6L129.6,1090.6Z" fill="#2eaa6a"/><path d="M124.8,1045.3L142.0,1045.3L133.4,1060.3Z" fill="#2eaa6a"/><path d="M129.6,996.0L146.8,996.0L138.2,1011.0Z" fill="#2eaa6a"/><path d="M136.6,945.6L153.8,945.6L145.2,960.6Z" fill="#2eaa6a"/><path d="M144.9,870.8L162.1,870.8L153.5,885.8Z" fill="#2eaa6a"/><path d="M154.4,809.6L171.6,809.6L163.0,824.6Z" fill="#2eaa6a"/><path d="M164.0,753.3L181.2,753.3L172.6,768.3Z" fill="#2eaa6a"/><path d="M174.2,707.1L191.4,707.1L182.8,722.1Z" fill="#2eaa6a"/><path d="M184.2,663.0L201.4,663.0L192.8,678.0Z" fill="#2eaa6a"/><path d="M194.2,627.6L211.4,627.6L202.8,642.6Z" fill="#2eaa6a"/><path d="M203.9,589.0L221.1,589.0L212.5,604.0Z" fill="#2eaa6a"/><path d="M213.6,557.0L230.8,557.0L222.2,572.0Z" fill="#2eaa6a"/><path d="M222.9,530.4L240.1,530.4L231.5,545.4Z" fill="#2eaa6a"/><path d="M233.3,502.0L250.5,502.0L241.9,517.0Z" fill="#2eaa6a"/><path d="M243.3,473.7L260.5,473.7L251.9,488.7Z" fill="#2eaa6a"/><path d="M252.4,452.0L269.6,452.0L261.0,467.0Z" fill="#2eaa6a"/><path d="M262.6,424.4L279.8,424.4L271.2,439.4Z" fill="#2eaa6a"/><path d="M272.2,402.7L289.4,402.7L280.8,417.7Z" fill="#2eaa6a"/><path d="M282.2,385.4L299.4,385.4L290.8,400.4Z" fill="#2eaa6a"/><path d="M292.1,357.6L309.3,357.6L300.7,372.6Z" fill="#2eaa6a"/><path d="M301.7,343.7L318.9,343.7L310.3,358.7Z" fill="#2eaa6a"/><path d="M312.0,318.7L329.2,318.7L320.6,333.7Z" fill="#2eaa6a"/><path d="M321.7,296.9L338.9,296.9L330.3,311.9Z" fill="#2eaa6a"/><path d="M331.4,284.7L348.6,284.7L340.0,299.7Z" fill="#2eaa6a"/><path d="M341.7,267.2L358.9,267.2L350.3,282.2Z" fill="#2eaa6a"/><path d="M352.3,247.5L369.5,247.5L360.9,262.5Z" fill="#2eaa6a"/><path d="M361.9,232.8L379.1,232.8L370.5,247.8Z" fill="#2eaa6a"/><path d="M371.5,217.1L388.7,217.1L380.1,232.1Z" fill="#2eaa6a"/><path d="M381.1,208.4L398.3,208.4L389.7,223.4Z" fill="#2eaa6a"/><path d="M390.7,206.6L407.9,206.6L399.3,221.6Z" fill="#2eaa6a"/><path d="M401.1,184.8L418.3,184.8L409.7,199.8Z" fill="#2eaa6a"/><path d="M410.7,190.9L427.9,190.9L419.3,205.9Z" fill="#2eaa6a"/><path d="M421.2,170.0L438.4,170.0L429.8,185.0Z" fill="#2eaa6a"/><path d="M430.7,170.9L447.9,170.9L439.3,185.9Z" fill="#2eaa6a"/><path d="M441.2,153.5L458.4,153.5L449.8,168.5Z" fill="#2eaa6a"/><path d="M450.8,157.0L468.0,157.0L459.4,172.0Z" fill="#2eaa6a"/><path d="M461.2,136.0L478.4,136.0L469.8,151.0Z" fill="#2eaa6a"/><path d="M470.8,140.4L488.0,140.4L479.4,155.4Z" fill="#2eaa6a"/><path d="M479.5,121.2L496.7,121.2L488.1,136.2Z" fill="#2eaa6a"/><path d="M490.0,135.2L507.2,135.2L498.6,150.2Z" fill="#2eaa6a"/><path d="M499.6,125.6L516.8,125.6L508.2,140.6Z" fill="#2eaa6a"/><path d="M509.2,126.5L526.4,126.5L517.8,141.5Z" fill="#2eaa6a"/><path d="M518.7,123.8L535.9,123.8L527.3,138.8Z" fill="#2eaa6a"/><path d="M529.2,110.8L546.4,110.8L537.8,125.8Z" fill="#2eaa6a"/><path d="M538.8,103.8L556.0,103.8L547.4,118.8Z" fill="#2eaa6a"/><path d="M548.4,92.5L565.6,92.5L557.0,107.5Z" fill="#2eaa6a"/><path d="M558.8,96.0L576.0,96.0L567.4,111.0Z" fill="#2eaa6a"/><path d="M569.3,99.4L586.5,99.4L577.9,114.4Z" fill="#2eaa6a"/><path d="M576.6,101.2L593.8,101.2L585.2,116.2Z" fill="#2eaa6a"/><path d="M586.2,109.0L603.4,109.0L594.8,124.0Z" fill="#2eaa6a"/><path d="M595.8,109.9L613.0,109.9L604.4,124.9Z" fill="#2eaa6a"/><path d="M606.3,102.0L623.5,102.0L614.9,117.0Z" fill="#2eaa6a"/><path d="M614.1,102.0L631.3,102.0L622.7,117.0Z" fill="#2eaa6a"/><path d="M623.7,97.7L640.9,97.7L632.3,112.7Z" fill="#2eaa6a"/><path d="M632.4,103.8L649.6,103.8L641.0,118.8Z" fill="#2eaa6a"/><path d="M642.0,102.0L659.2,102.0L650.6,117.0Z" fill="#2eaa6a"/><path d="M651.6,119.5L668.8,119.5L660.2,134.5Z" fill="#2eaa6a"/><path d="M660.3,119.5L677.5,119.5L668.9,134.5Z" fill="#2eaa6a"/><path d="M670.7,116.9L687.9,116.9L679.3,131.9Z" fill="#2eaa6a"/><path d="M680.3,117.7L697.5,117.7L688.9,132.7Z" fill="#2eaa6a"/><path d="M689.9,124.7L707.1,124.7L698.5,139.7Z" fill="#2eaa6a"/><path d="M700.4,129.0L717.6,129.0L709.0,144.0Z" fill="#2eaa6a"/><path d="M709.1,129.0L726.3,129.0L717.7,144.0Z" fill="#2eaa6a"/><path d="M719.5,126.5L736.7,126.5L728.1,141.5Z" fill="#2eaa6a"/><path d="M729.1,134.3L746.3,134.3L737.7,149.3Z" fill="#2eaa6a"/><path d="M739.6,135.2L756.8,135.2L748.2,150.2Z" fill="#2eaa6a"/><path d="M749.2,150.0L766.4,150.0L757.8,165.0Z" fill="#2eaa6a"/><path d="M758.7,155.2L775.9,155.2L767.3,170.2Z" fill="#2eaa6a"/><path d="M768.3,170.9L785.5,170.9L776.9,185.9Z" fill="#2eaa6a"/><path d="M777.9,175.3L795.1,175.3L786.5,190.3Z" fill="#2eaa6a"/><path d="M787.5,218.8L804.7,218.8L796.1,233.8Z" fill="#2eaa6a"/><path d="M797.1,204.0L814.3,204.0L805.7,219.0Z" fill="#2eaa6a"/><path d="M806.7,217.0L823.9,217.0L815.3,232.0Z" fill="#2eaa6a"/><path d="M814.9,225.5L832.1,225.5L823.5,240.5Z" fill="#2eaa6a"/><path d="M823.6,225.5L840.8,225.5L832.2,240.5Z" fill="#2eaa6a"/><path d="M833.2,227.3L850.4,227.3L841.8,242.3Z" fill="#2eaa6a"/><path d="M841.9,230.8L859.1,230.8L850.5,245.8Z" fill="#2eaa6a"/><path d="M851.5,246.5L868.7,246.5L860.1,261.5Z" fill="#2eaa6a"/><path d="M861.1,240.4L878.3,240.4L869.7,255.4Z" fill="#2eaa6a"/><path d="M869.8,246.5L887.0,246.5L878.4,261.5Z" fill="#2eaa6a"/><path d="M879.4,251.7L896.6,251.7L888.0,266.7Z" fill="#2eaa6a"/><path d="M888.1,256.0L905.3,256.0L896.7,271.0Z" fill="#2eaa6a"/><path d="M896.8,260.4L914.0,260.4L905.4,275.4Z" fill="#2eaa6a"/><path d="M906.4,261.3L923.6,261.3L915.0,276.3Z" fill="#2eaa6a"/><path d="M915.1,404.2L932.3,404.2L923.7,419.2Z" fill="#2eaa6a"/><path d="M923.8,401.6L941.0,401.6L932.4,416.6Z" fill="#2eaa6a"/><path d="M931.7,385.0L948.9,385.0L940.3,400.0Z" fill="#2eaa6a"/><path d="M942.1,377.2L959.3,377.2L950.7,392.2Z" fill="#2eaa6a"/><path d="M950.8,380.6L968.0,380.6L959.4,395.6Z" fill="#2eaa6a"/><path d="M959.5,383.3L976.7,383.3L968.1,398.3Z" fill="#2eaa6a"/><path d="M969.1,386.7L986.3,386.7L977.7,401.7Z" fill="#2eaa6a"/><path d="M978.7,389.4L995.9,389.4L987.3,404.4Z" fill="#2eaa6a"/><path d="M985.7,401.6L1002.9,401.6L994.3,416.6Z" fill="#2eaa6a"/><path d="M994.4,395.5L1011.6,395.5L1003.0,410.5Z" fill="#2eaa6a"/><path d="M1003.1,406.8L1020.3,406.8L1011.7,421.8Z" fill="#2eaa6a"/><path d="M1013.5,401.1L1030.7,401.1L1022.1,416.1Z" fill="#2eaa6a"/><path d="M1021.1,412.9L1038.3,412.9L1029.7,427.9Z" fill="#2eaa6a"/><path d="M1029.6,421.5L1046.8,421.5L1038.2,436.5Z" fill="#2eaa6a"/><path d="M1039.3,415.1L1056.5,415.1L1047.9,430.1Z" fill="#2eaa6a"/><path d="M1045.7,471.9L1062.9,471.9L1054.3,486.9Z" fill="#2eaa6a"/><path d="M1055.4,509.4L1072.6,509.4L1064.0,524.4Z" fill="#2eaa6a"/><path d="M1063.9,499.8L1081.1,499.8L1072.5,514.8Z" fill="#2eaa6a"/><path d="M1073.6,490.1L1090.8,490.1L1082.2,505.1Z" fill="#2eaa6a"/><path d="M1083.2,497.6L1100.4,497.6L1091.8,512.6Z" fill="#2eaa6a"/><path d="M1091.8,498.7L1109.0,498.7L1100.4,513.7Z" fill="#2eaa6a"/><path d="M1101.5,493.3L1118.7,493.3L1110.1,508.3Z" fill="#2eaa6a"/><path d="M1111.1,492.3L1128.3,492.3L1119.7,507.3Z" fill="#2eaa6a"/><path d="M1121.9,499.8L1139.1,499.8L1130.5,514.8Z" fill="#2eaa6a"/><path d="M1130.4,503.0L1147.6,503.0L1139.0,518.0Z" fill="#2eaa6a"/><path d="M1140.1,499.8L1157.3,499.8L1148.7,514.8Z" fill="#2eaa6a"/><path d="M1148.7,493.3L1165.9,493.3L1157.3,508.3Z" fill="#2eaa6a"/><path d="M1158.3,504.1L1175.5,504.1L1166.9,519.1Z" fill="#2eaa6a"/><path d="M1168.0,508.4L1185.2,508.4L1176.6,523.4Z" fill="#2eaa6a"/><path d="M1177.6,507.3L1194.8,507.3L1186.2,522.3Z" fill="#2eaa6a"/><path d="M1185.1,559.8L1202.3,559.8L1193.7,574.8Z" fill="#2eaa6a"/><path d="M1194.8,559.8L1212.0,559.8L1203.4,574.8Z" fill="#2eaa6a"/><path d="M1203.4,557.7L1220.6,557.7L1212.0,572.7Z" fill="#2eaa6a"/><path d="M1213.0,557.7L1230.2,557.7L1221.6,572.7Z" fill="#2eaa6a"/><path d="M1222.7,553.4L1239.9,553.4L1231.3,568.4Z" fill="#2eaa6a"/><path d="M1232.3,547.0L1249.5,547.0L1240.9,562.0Z" fill="#2eaa6a"/><path d="M1242.0,550.2L1259.2,550.2L1250.6,565.2Z" fill="#2eaa6a"/><path d="M1250.5,550.2L1267.7,550.2L1259.1,565.2Z" fill="#2eaa6a"/><path d="M1260.2,539.5L1277.4,539.5L1268.8,554.5Z" fill="#2eaa6a"/><path d="M1269.9,538.4L1287.1,538.4L1278.5,553.4Z" fill="#2eaa6a"/><path d="M1279.5,543.7L1296.7,543.7L1288.1,558.7Z" fill="#2eaa6a"/><path d="M1289.2,547.0L1306.4,547.0L1297.8,562.0Z" fill="#2eaa6a"/><path d="M1297.7,547.0L1314.9,547.0L1306.3,562.0Z" fill="#2eaa6a"/><path d="M1307.4,538.4L1324.6,538.4L1316.0,553.4Z" fill="#2eaa6a"/></g>
<line x1="245.5" y1="288.5" x2="124.2" y2="1109" stroke="#ff0a0a" stroke-width="5" stroke-dasharray="20.5 14.6"/>
<line x1="320" y1="949.5" x2="435" y2="949.5" stroke="#4d4d4d" stroke-width="4.7"/>
<rect x="371.2" y="943.2" width="12.6" height="12.6" fill="#4d4d4d"/>
<line x1="320" y1="1029.5" x2="435" y2="1029.5" stroke="#1a66e0" stroke-width="4.7"/>
<path d="M368.9,1034.5L386.1,1034.5L377.5,1019.5Z" fill="#1a66e0"/>
<line x1="821.5" y1="949.5" x2="936" y2="949.5" stroke="#f54242" stroke-width="4.7"/>
<circle cx="878.8" cy="949.5" r="6.9" fill="#f54242"/>
<line x1="821.5" y1="1029.5" x2="936" y2="1029.5" stroke="#2eaa6a" stroke-width="4.7"/>
<path d="M870.1,1024.5L887.4,1024.5L878.8,1039.5Z" fill="#2eaa6a"/>
<text x="461.5" y="971.5" font-family="Liberation Serif, serif" font-size="55.7" fill="#000"><tspan font-style="italic">k</tspan><tspan font-style="italic" font-size="35" dy="15.5">n</tspan><tspan dy="-15.5" dx="1.2">=0</tspan></text>
<text x="461.5" y="1051.5" font-family="Liberation Serif, serif" font-size="55.7" fill="#000"><tspan font-style="italic">k</tspan><tspan font-style="italic" font-size="35" dy="15.5">n</tspan><tspan dy="-15.5" dx="1.2">=0.28 Gpa/m</tspan></text>
<text x="961.8" y="971.5" font-family="Liberation Serif, serif" font-size="55.7" fill="#000"><tspan font-style="italic">k</tspan><tspan font-style="italic" font-size="35" dy="15.5">n</tspan><tspan dy="-15.5" dx="1.2">=0.028 Gpa/m</tspan></text>
<text x="961.8" y="1051.5" font-family="Liberation Serif, serif" font-size="55.7" fill="#000"><tspan font-style="italic">k</tspan><tspan font-style="italic" font-size="35" dy="15.5">n</tspan><tspan dy="-15.5" dx="1.2">=2.8 Gpa/m</tspan></text>
<text x="127.9" y="1173.3" font-family="Liberation Serif, serif" font-size="55" text-anchor="middle">0</text>
<text x="392.7" y="1173.3" font-family="Liberation Serif, serif" font-size="55" text-anchor="middle">2</text>
<text x="657.5" y="1173.3" font-family="Liberation Serif, serif" font-size="55" text-anchor="middle">4</text>
<text x="922.3" y="1173.3" font-family="Liberation Serif, serif" font-size="55" text-anchor="middle">6</text>
<text x="1187.1" y="1173.3" font-family="Liberation Serif, serif" font-size="55" text-anchor="middle">8</text>
<text x="1451.9" y="1173.3" font-family="Liberation Serif, serif" font-size="55" text-anchor="middle">10</text>
<text x="104.8" y="1125.3" font-family="Liberation Serif, serif" font-size="55" text-anchor="end">0</text>
<text x="104.8" y="991.8" font-family="Liberation Serif, serif" font-size="55" text-anchor="end">1</text>
<text x="104.8" y="858.4" font-family="Liberation Serif, serif" font-size="55" text-anchor="end">2</text>
<text x="104.8" y="725.0" font-family="Liberation Serif, serif" font-size="55" text-anchor="end">3</text>
<text x="104.8" y="591.5" font-family="Liberation Serif, serif" font-size="55" text-anchor="end">4</text>
<text x="104.8" y="458.0" font-family="Liberation Serif, serif" font-size="55" text-anchor="end">5</text>
<text x="104.8" y="324.6" font-family="Liberation Serif, serif" font-size="55" text-anchor="end">6</text>
<text x="104.8" y="191.2" font-family="Liberation Serif, serif" font-size="55" text-anchor="end">7</text>
<text x="104.8" y="57.7" font-family="Liberation Serif, serif" font-size="55" text-anchor="end">8</text>
<text x="791.3" y="1244.2" font-family="Liberation Serif, serif" font-size="55.7" text-anchor="middle">Shear displacemant/mm</text>
<text transform="translate(53.4,574.0) rotate(-90)" font-family="Liberation Serif, serif" font-size="55.7" text-anchor="middle">Shear stress/Mpa</text>
<text transform="translate(546.5,1343.5) scale(0.962,1)" font-family="Liberation Serif, serif" font-size="72">(<tspan font-weight="bold">c</tspan>) <tspan font-style="italic">JRC</tspan> 18~20</text>
</svg></body></html>
